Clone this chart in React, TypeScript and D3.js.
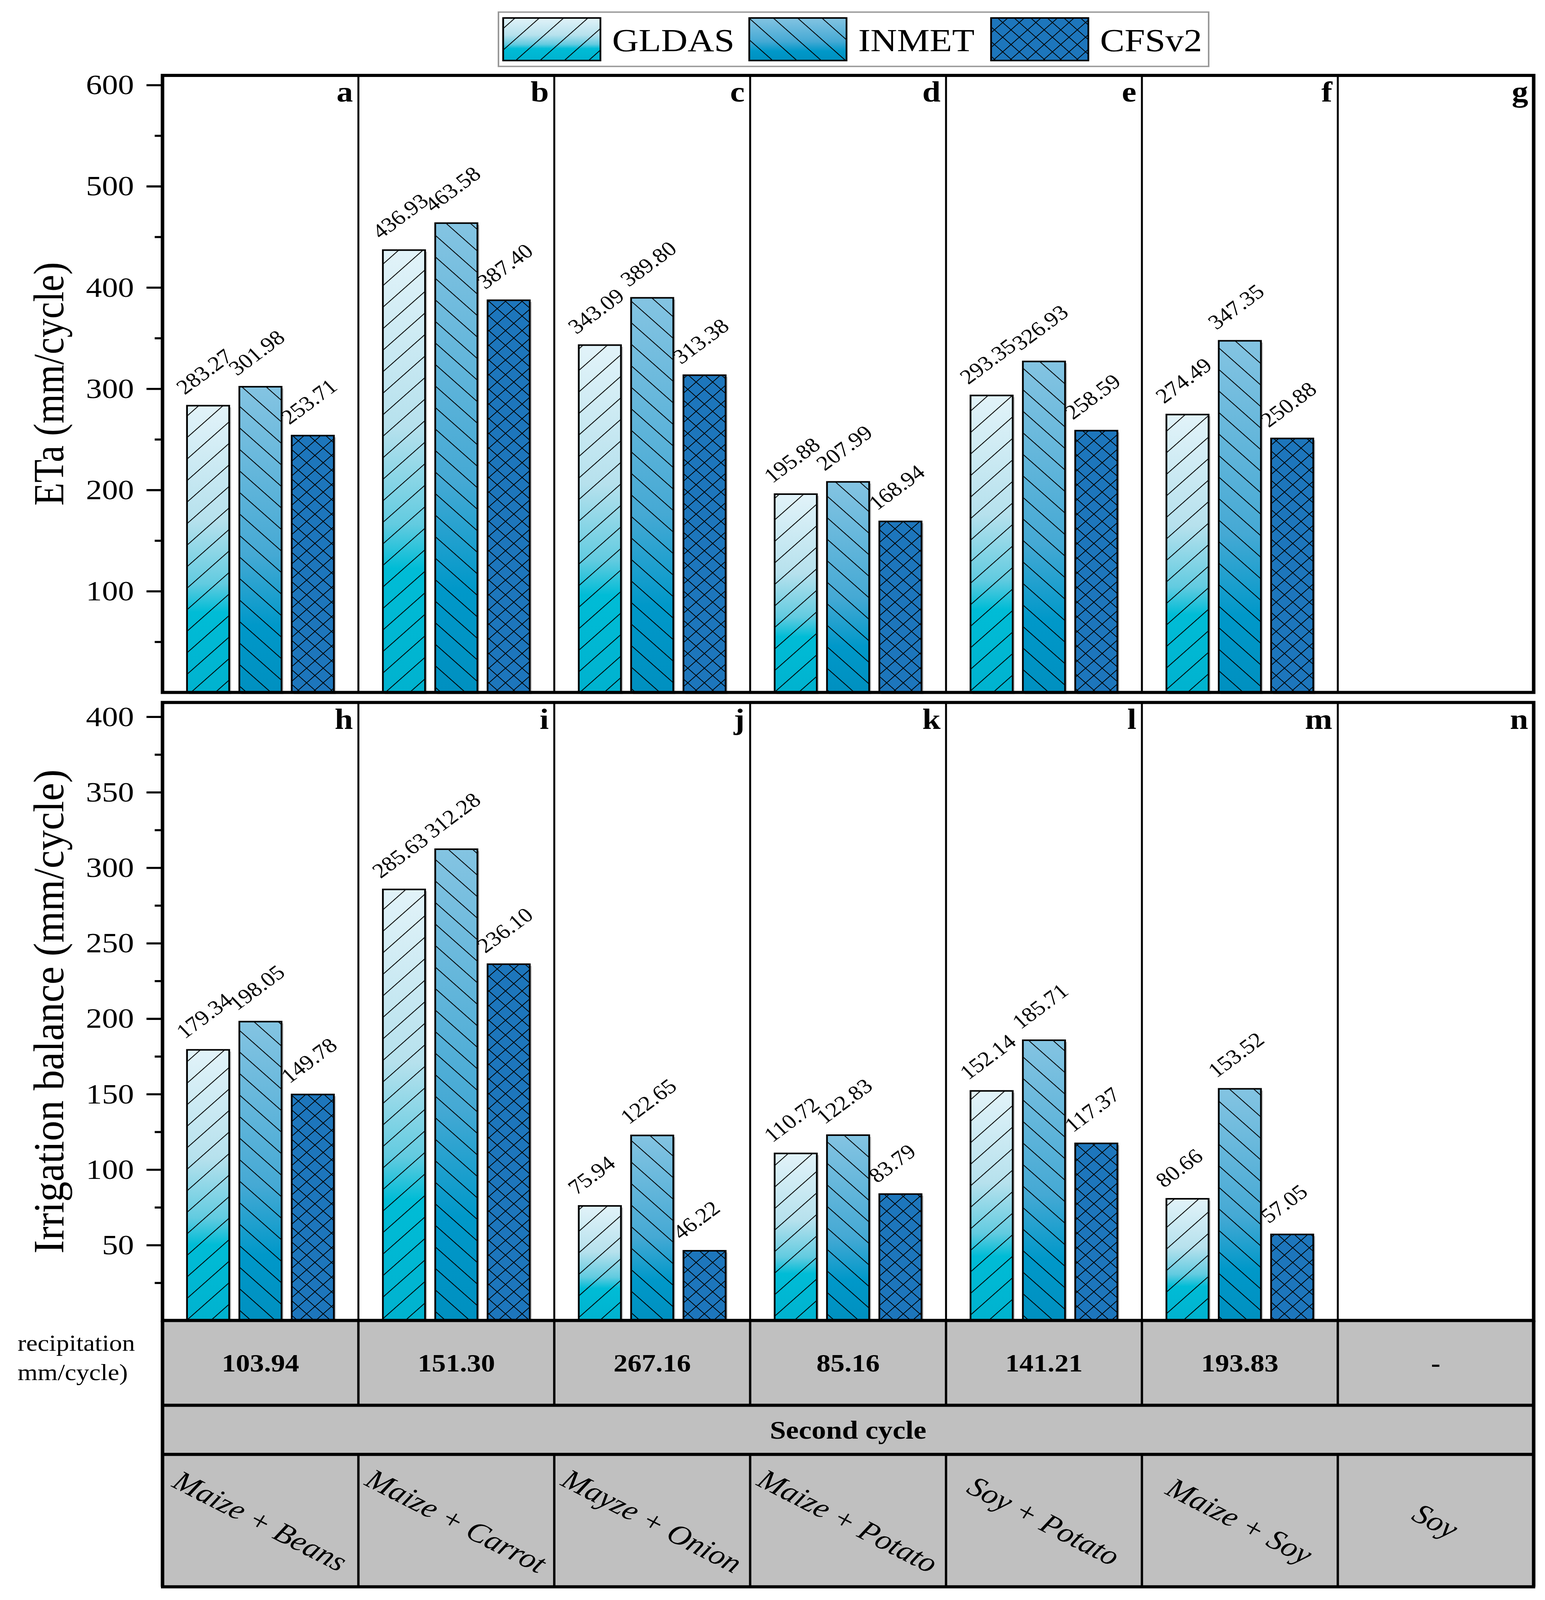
import React, { useEffect, useRef } from 'react';
import * as d3 from 'd3';

const series = ['GLDAS', 'INMET', 'CFSv2'];
const crops = ['Maize + Beans', 'Maize + Carrot', 'Mayze + Onion', 'Maize + Potato', 'Soy + Potato', 'Maize + Soy', 'Soy'];
const etaLetters = ['a', 'b', 'c', 'd', 'e', 'f', 'g'];
const irrLetters = ['h', 'i', 'j', 'k', 'l', 'm', 'n'];

// ETa (mm/cycle)
const gldasEta = [283.27, 436.93, 343.09, 195.88, 293.35, 274.49, null];
const inmetEta = [301.98, 463.58, 389.8, 207.99, 326.93, 347.35, null];
const cfsEta = [253.71, 387.4, 313.38, 168.94, 258.59, 250.88, null];

// Irrigation balance (mm/cycle)
const gldasIrr = [179.34, 285.63, 75.94, 110.72, 152.14, 80.66, null];
const inmetIrr = [198.05, 312.28, 122.65, 122.83, 185.71, 153.52, null];
const cfsIrr = [149.78, 236.1, 46.22, 83.79, 117.37, 57.05, null];

const precipitation = ['103.94', '151.30', '267.16', '85.16', '141.21', '193.83', '-'];

const etaTicks = [100, 200, 300, 400, 500, 600];
const etaMinor = [50, 150, 250, 350, 450, 550];
const irrTicks = [50, 100, 150, 200, 250, 300, 350, 400];
const irrMinor = [25, 75, 125, 175, 225, 275, 325, 375];

const FONT = '"Liberation Serif", "Times New Roman", serif';
const W = 3955;
const H = 4626;
const left = 416;
const right = 3926;
const fmt = d3.format('.2f');

const x = d3.scaleBand<string>().domain(crops).range([left, right]);
const xs = d3.scaleBand<string>().domain(series).range([0, x.bandwidth()]).paddingInner(0.194).paddingOuter(0.468);

const yEta = d3.scaleLinear().domain([0, 609.5]).range([2002, 218]);
const yIrr = d3.scaleLinear().domain([0, 409.5]).range([3818, 2031]);

const fills = ['url(#gGldas)', 'url(#gInmet)', '#1d76bc'];
const hatches = ['url(#pGldas)', 'url(#pInmet)', 'url(#pCfs)'];

function AxisLeft({ scale, ticks, minor }: any) {
  const ref = useRef<SVGGElement>(null);

  useEffect(() => {
    if (!ref.current) return;
    const g = d3.select(ref.current);
    g.selectAll('*').remove();
    g.append('g').call(d3.axisLeft(scale).tickValues(minor).tickSize(20).tickFormat(() => ''));
    g.append('g').call(d3.axisLeft(scale).tickValues(ticks).tickSize(41).tickPadding(32).tickFormat(d3.format('d')));
    g.selectAll('.domain').remove();
    g.selectAll('line').attr('stroke', '#000').attr('stroke-width', 6);
    g.selectAll('text')
      .attr('font-size', 82)
      .attr('font-family', FONT)
      .attr('fill', '#000');
  }, [scale]);

  return <g ref={ref} transform={`translate(${left},0)`} />;
}

function Bars({ y, data }: { y: d3.ScaleLinear<number, number>; data: (number | null)[][] }) {
  const base = y(0);
  return (
    <g>
      {crops.map((crop, ci) =>
        series.map((s, si) => {
          const v = data[si][ci];
          if (v == null) return null;
          const bx = x(crop)! + xs(s)!;
          const by = y(v);
          const bw = xs.bandwidth();
          const bh = base - by;
          const lx = bx - 6;
          const ly = by - 30;
          return (
            <g key={`${crop}-${s}`}>
              <rect x={bx + 5} y={by + 5} width={bw} height={bh} fill="#8a8a8a" opacity={0.5} />
              <rect x={bx} y={by} width={bw} height={bh} fill={fills[si]} />
              <rect x={bx} y={by} width={bw} height={bh} fill={hatches[si]} />
              <rect x={bx} y={by} width={bw} height={bh} fill="none" stroke="#000" strokeWidth={4.5} />
              <text
                x={lx}
                y={ly}
                transform={`rotate(-40, ${lx}, ${ly})`}
                fontFamily={FONT}
                fontSize={60}
                fill="#000"
              >
                {fmt(v)}
              </text>
            </g>
          );
        })
      )}
    </g>
  );
}

function Panel({ y, data, letters, ticks, minor, title, titleLength }: any) {
  const [top, bottom] = [y.range()[1], y.range()[0]];
  const cy = (top + bottom) / 2;
  return (
    <g>
      <Bars y={y} data={data} />
      <rect x={left} y={top} width={right - left} height={bottom - top} fill="none" stroke="#000" strokeWidth={9} />
      {crops.slice(1).map((c) => (
        <line key={c} x1={x(c)} x2={x(c)} y1={top} y2={bottom} stroke="#000" strokeWidth={5} />
      ))}
      {crops.map((c, i) => (
        <text
          key={`l-${c}`}
          x={x(c)! + x.bandwidth() - 14}
          y={top + 76}
          textAnchor="end"
          fontFamily={FONT}
          fontWeight="bold"
          fontSize={84}
        >
          {letters[i]}
        </text>
      ))}
      <AxisLeft scale={y} ticks={ticks} minor={minor} />
      <text
        x={162}
        y={cy}
        transform={`rotate(-90, 162, ${cy})`}
        textAnchor="middle"
        fontFamily={FONT}
        fontSize={110}
        fill="#000"
        textLength={titleLength}
        lengthAdjust="spacingAndGlyphs"
      >
        {title}
      </text>
    </g>
  );
}

function Table() {
  const rows = [3818, 4063, 4205, 4588];
  const mid = (left + right) / 2;
  return (
    <g fontFamily={FONT}>
      <rect x={left} y={rows[0]} width={right - left} height={rows[3] - rows[0]} fill="#c0c0c0" />
      {crops.slice(1).map((c) => (
        <g key={c}>
          <line x1={x(c)} x2={x(c)} y1={rows[0]} y2={rows[1]} stroke="#000" strokeWidth={6} />
          <line x1={x(c)} x2={x(c)} y1={rows[2]} y2={rows[3]} stroke="#000" strokeWidth={6} />
        </g>
      ))}
      {rows.map((r) => (
        <line key={r} x1={left - 4} x2={right + 4} y1={r} y2={r} stroke="#000" strokeWidth={9} />
      ))}
      <line x1={left} x2={left} y1={rows[0]} y2={rows[3]} stroke="#000" strokeWidth={9} />
      <line x1={right} x2={right} y1={rows[0]} y2={rows[3]} stroke="#000" strokeWidth={9} />
      {crops.map((c, i) => (
        <text
          key={`p-${c}`}
          x={x(c)! + x.bandwidth() / 2}
          y={(rows[0] + rows[1]) / 2}
          dy="0.35em"
          textAnchor="middle"
          fontWeight="bold"
          fontSize={72}
        >
          {precipitation[i]}
        </text>
      ))}
      <text x={mid} y={(rows[1] + rows[2]) / 2} dy="0.35em" textAnchor="middle" fontWeight="bold" fontSize={74}>
        Second cycle
      </text>
      {crops.map((c) => {
        const cx = x(c)! + x.bandwidth() / 2;
        const cy = (rows[2] + rows[3]) / 2;
        return (
          <text
            key={`c-${c}`}
            x={cx}
            y={cy}
            dy="0.35em"
            transform={`rotate(30, ${cx}, ${cy})`}
            textAnchor="middle"
            fontStyle="italic"
            fontSize={82}
          >
            {c}
          </text>
        );
      })}
      <text x={45} y={3905} fontSize={66}>recipitation</text>
      <text x={45} y={3990} fontSize={66}>mm/cycle)</text>
    </g>
  );
}

function Legend() {
  const swatchX = [1288, 1918, 2537];
  return (
    <g fontFamily={FONT}>
      <rect x={1276} y={35} width={1818} height={157} fill="#fff" stroke="#999" strokeWidth={4} />
      {series.map((s, i) => (
        <g key={s}>
          <rect x={swatchX[i]} y={52} width={249} height={123} fill={fills[i]} />
          <rect x={swatchX[i]} y={52} width={249} height={123} fill={hatches[i]} />
          <rect x={swatchX[i]} y={52} width={249} height={123} fill="none" stroke="#000" strokeWidth={4.5} />
          <text x={swatchX[i] + 279} y={148} fontSize={94}>
            {s}
          </text>
        </g>
      ))}
    </g>
  );
}

export default function App() {
  const etaData = [gldasEta, inmetEta, cfsEta];
  const irrData = [gldasIrr, inmetIrr, cfsIrr];
  // the svg stretches to the whole viewport so the layout fills it as the reference fills its frame
  return (
    <svg
      viewBox={`0 0 ${W} ${H}`}
      preserveAspectRatio="none"
      style={{ position: 'fixed', left: 0, top: 0, width: '100vw', height: '100vh', display: 'block', background: '#fff' }}
    >
      <defs>
        <linearGradient id="gGldas" x1="0" y1="0" x2="0" y2="1">
          <stop offset="0%" stopColor="#e2f3f9" />
          <stop offset="40%" stopColor="#b6e1ed" />
          <stop offset="62%" stopColor="#62cbe0" />
          <stop offset="72%" stopColor="#00bcd6" />
          <stop offset="100%" stopColor="#00b2cf" />
        </linearGradient>
        <linearGradient id="gInmet" x1="0" y1="0" x2="0" y2="1">
          <stop offset="0%" stopColor="#84c4e2" />
          <stop offset="55%" stopColor="#45a9d4" />
          <stop offset="78%" stopColor="#0098c9" />
          <stop offset="100%" stopColor="#0090c0" />
        </linearGradient>
        <pattern id="pGldas" patternUnits="userSpaceOnUse" width={20} height={44} patternTransform="rotate(-45)">
          <line x1={0} x2={20} y1={1} y2={1} stroke="#000" strokeWidth={2.5} />
        </pattern>
        <pattern id="pInmet" patternUnits="userSpaceOnUse" width={20} height={44} patternTransform="rotate(45)">
          <line x1={0} x2={20} y1={1} y2={1} stroke="#000" strokeWidth={2.5} />
        </pattern>
        <pattern id="pCfs" patternUnits="userSpaceOnUse" width={30} height={30} patternTransform="rotate(45)">
          <line x1={0} x2={30} y1={1} y2={1} stroke="#000" strokeWidth={2.2} />
          <line x1={1} x2={1} y1={0} y2={30} stroke="#000" strokeWidth={2.2} />
        </pattern>
      </defs>
      <Legend />
      <Panel
        y={yEta}
        data={etaData}
        letters={etaLetters}
        ticks={etaTicks}
        minor={etaMinor}
        title="ETa (mm/cycle)"
        titleLength={704}
      />
      <Panel
        y={yIrr}
        data={irrData}
        letters={irrLetters}
        ticks={irrTicks}
        minor={irrMinor}
        title="Irrigation balance (mm/cycle)"
        titleLength={1400}
      />
      <Table />
    </svg>
  );
}
